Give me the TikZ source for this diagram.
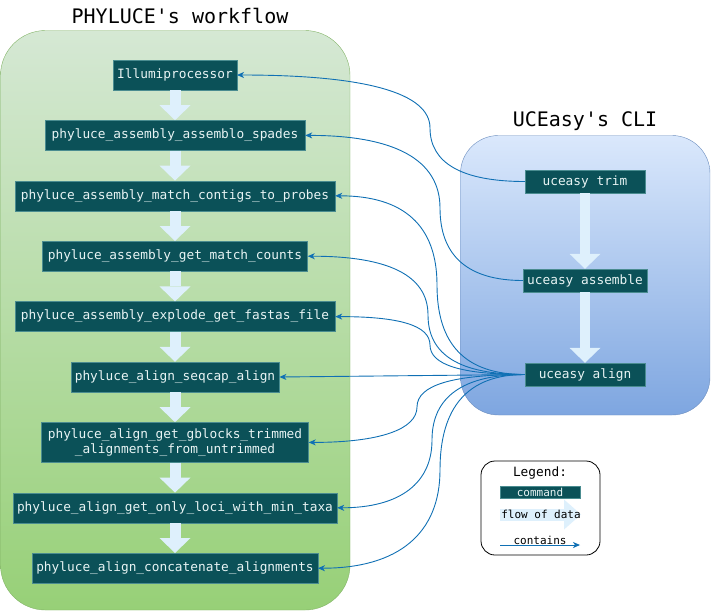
\documentclass[tikz,border=0pt]{standalone}
\usepackage{fontspec}
\setmonofont{DejaVu Sans Mono}
\usetikzlibrary{arrows.meta,positioning}

\definecolor{cmdfill}{HTML}{0B5158}
\definecolor{cmdline}{HTML}{4A8C90}
\definecolor{cmdtext}{HTML}{E8F4F4}
\definecolor{flowblue}{HTML}{DEF0FC}
\definecolor{linkblue}{HTML}{1070B4}
\definecolor{greenline}{HTML}{82B366}
\definecolor{greentop}{HTML}{D5E8D4}
\definecolor{greenbot}{HTML}{97D077}
\definecolor{blueline}{HTML}{6C8EBF}
\definecolor{bluetop}{HTML}{DAE8FC}
\definecolor{bluebot}{HTML}{7EA6E0}

\tikzset{
  cmd/.style={draw=cmdline, fill=cmdfill, text=cmdtext, font=\ttfamily\fontsize{12.8}{15}\selectfont,
    inner xsep=4pt, inner ysep=2pt, minimum height=30pt},
  cli/.style={cmd, minimum height=23pt, minimum width=120pt},
  flow/.style={draw=flowblue, line width=11pt, -{Triangle[width=31pt,length=15pt,line width=0pt]}},
  contains/.style={draw=linkblue, line width=0.9pt, -{Stealth[length=7pt,width=6pt,inset=2pt]}},
  title/.style={font=\ttfamily\fontsize{20}{24}\selectfont},
  legendtext/.style={font=\ttfamily\fontsize{11}{13}\selectfont}
}

\begin{document}
\begin{tikzpicture}[x=1pt, y=-1pt, node distance=30pt]
  \useasboundingbox (0,0) rectangle (711,611);

  % Container
  \draw[draw=greenline, top color=greentop, bottom color=greenbot, rounded corners=45pt] (0.5,30.5) rectangle (350,610);
  \draw[draw=blueline, top color=bluetop, bottom color=bluebot, rounded corners=38pt] (460.5,135.5) rectangle (710,415);

  \node[title] (phytitle) at (180,16) {PHYLUCE's workflow};
  \node[title] (ucetitle) at (585,121) {UCEasy's CLI};

  % PHYLUCE
  \node[cmd] (illumi) at (175,75) {Illumiprocessor};
  \node[cmd, below=of illumi, minimum width=260pt] (spades) {phyluce\_assembly\_assemblo\_spades};
  \node[cmd, below=of spades, minimum width=320pt] (match) {phyluce\_assembly\_match\_contigs\_to\_probes};
  \node[cmd, below=of match, minimum width=265pt] (counts) {phyluce\_assembly\_get\_match\_counts};
  \node[cmd, below=of counts, minimum width=320pt] (explode) {phyluce\_assembly\_explode\_get\_fastas\_file};
  \node[cmd, below=of explode, minimum width=206pt] (seqcap) {phyluce\_align\_seqcap\_align};
  \node[cmd, below=of seqcap, minimum width=267pt, minimum height=40pt, align=center] (gblocks)
    {phyluce\_align\_get\_gblocks\_trimmed\\\_alignments\_from\_untrimmed};
  \node[cmd, below=of gblocks, minimum width=323pt] (taxa) {phyluce\_align\_get\_only\_loci\_with\_min\_taxa};
  \node[cmd, below=of taxa, minimum width=285pt] (concat) {phyluce\_align\_concatenate\_alignments};

  \foreach \a/\b in {illumi/spades, spades/match, match/counts, counts/explode,
                     explode/seqcap, seqcap/gblocks, gblocks/taxa, taxa/concat}
    \draw[flow] (\a) -- (\b);

  % UCEasy
  \node[cli] (trim) at (585,181.5) {uceasy trim};
  \node[cli] (assemble) at (585,280.5) {uceasy assemble};
  \node[cli] (align) at (585,374.5) {uceasy align};

  \draw[flow, line width=10pt] (trim) -- (assemble);
  \draw[flow, line width=10pt] (assemble) -- (align);

  % contains
  \draw[contains] (trim.west) .. controls +(-63,0) and +(0,35) .. (430,128) .. controls +(0,-35) and +(129,0) .. (illumi.east);
  \draw[contains] (assemble.west) .. controls +(-55,0) and +(0,48) .. (440,208) .. controls +(0,-48) and +(90,0) .. (spades.east);
  \draw[contains] (align.west) .. controls +(-59,0) and +(0,60) .. (437,285) .. controls +(0,-60) and +(68,0) .. (match.east);
  \draw[contains] (align.west) .. controls +(-65,0) and +(0,40) .. (428,315) .. controls +(0,-40) and +(80,0) .. (counts.east);
  \draw[contains] (align.west) .. controls +(-63,0) and +(0,20) .. (430,345) .. controls +(0,-20) and +(63,0) .. (explode.east);
  \draw[contains] (align.west) -- (seqcap.east);
  \draw[contains] (align.west) .. controls +(-72,0) and +(0,-22) .. (417,407) .. controls +(0,22) and +(72,0) .. (gblocks.east);
  \draw[contains] (align.west) .. controls +(-62,0) and +(0,-43) .. (432,440) .. controls +(0,43) and +(63,0) .. (taxa.east);
  \draw[contains] (align.west) .. controls +(-57,0) and +(0,-63) .. (440,470) .. controls +(0,63) and +(81,0) .. (concat.east);

  % Legend
  \draw[rounded corners=14pt, fill=white, line width=0.8pt] (481,461) rectangle (600,555);
  \node[font=\ttfamily\fontsize{12.8}{15}\selectfont] (legtitle) at (540,473) {Legend:};
  \node[cmd, legendtext, minimum width=80pt, minimum height=12pt, inner sep=0pt] (legcmd) at (540,492.5) {command};
  \coordinate (flowa) at (500,514.5);
  \coordinate (flowb) at (581,514.5);
  \draw[flow, line width=12pt, -{Triangle[width=30pt,length=17pt,line width=0pt]}] (flowa) -- (flowb);
  \node[legendtext] (legflow) at (541,514) {flow of data};
  \coordinate (conta) at (500,545);
  \coordinate (contb) at (580,545);
  \draw[contains] (conta) -- (contb);
  \node[legendtext] (legcont) at (540,540) {contains};
\end{tikzpicture}
\end{document}
